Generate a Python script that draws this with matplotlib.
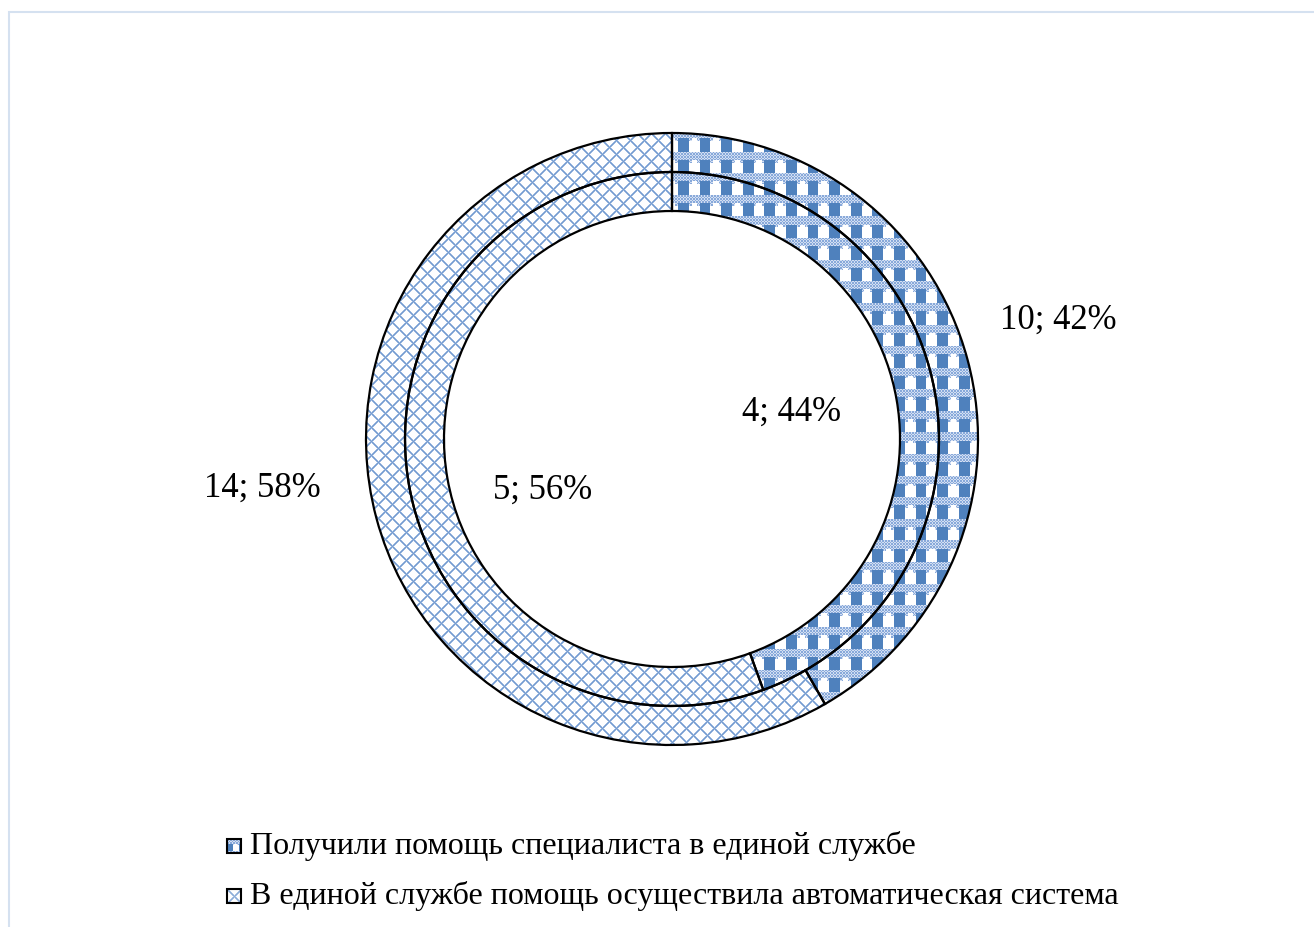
import numpy as np
import matplotlib
matplotlib.use("Agg")
import matplotlib.pyplot as plt
from matplotlib.patches import Rectangle

# Data
categories = [
    "Получили помощь специалиста в единой службе",
    "В единой службе помощь осуществила автоматическая система",
]
outer_counts = [10, 14]   # all requests
inner_counts = [4, 5]     # requests handled in the single service

W, H = 1314, 927
fig = plt.figure(figsize=(W / 100, H / 100), dpi=100)
ax = fig.add_axes([0, 0, 1, 1])

FONT = ["Liberation Serif", "DejaVu Serif"]
DARK = np.array(matplotlib.colors.to_rgb("#4F81BD"))
MID = np.array(matplotlib.colors.to_rgb("#88A9DA"))
LIGHT = np.array(matplotlib.colors.to_rgb("#D3DFF2"))


# ---- fill textures -------------------------------------------------------
def plaid(h, w, scale=2.7, x0=0.0, y0=0.0):
    """Blue plaid: dotted horizontal bands and alternating dark/white blocks."""
    yy, xx = np.mgrid[0:h, 0:w].astype(float)
    tile = np.array([
        [2, 2, 2, 2, 2, 2, 2, 2],
        [2, 2, 2, 2, 2, 2, 2, 2],
        [2, 2, 2, 2, 2, 2, 2, 2],
        [1, 1, 1, 1, 2, 0, 0, 2],
        [1, 1, 1, 1, 0, 0, 0, 0],
        [1, 1, 1, 1, 0, 0, 0, 0],
        [1, 1, 1, 1, 0, 0, 0, 0],
        [1, 1, 1, 1, 0, 0, 0, 0],
    ])
    ti = tile[np.floor((yy - y0) / scale).astype(int) % 8,
              np.floor((xx - x0) / scale).astype(int) % 8]
    dots = ((np.floor(xx / 1.5) + np.floor(yy / 1.5)) % 2) == 0
    img = np.ones((h, w, 3))
    img[ti == 1] = DARK
    img[(ti == 2) & dots] = MID
    img[(ti == 2) & ~dots] = LIGHT
    return img


def lattice(h, w, period=14.0, x0=0.0, y0=0.0, strength=0.85):
    """Light blue diagonal cross-hatch."""
    yy, xx = np.mgrid[0:h, 0:w].astype(float)
    xx -= x0
    yy -= y0
    d1 = np.mod(xx + yy, period)
    d2 = np.mod(xx - yy, period)
    dist = np.minimum(np.minimum(d1, period - d1),
                      np.minimum(d2, period - d2)) / np.sqrt(2)
    m = np.clip(1.4 - dist, 0, 1) * strength
    c = np.array(matplotlib.colors.to_rgb("#5B8AC9"))
    return np.ones((h, w, 3)) * (1 - m[..., None]) + c * m[..., None]


textures = [plaid(H, W, x0=8), lattice(H, W)]


def fill(patch, tex, extent=(0, W, 0, H)):
    im = ax.imshow(tex, extent=extent, origin="upper",
                   interpolation="nearest", zorder=0)
    im.set_clip_path(patch)


# ---- rings ---------------------------------------------------------------
cx, cy = 672, H - 439
R_out, ring_w = 306, 39
wp = dict(width=ring_w, facecolor="none", edgecolor="black", linewidth=1.6)

outer_wedges, _ = ax.pie(outer_counts, radius=R_out, center=(cx, cy),
                         startangle=90, counterclock=False, wedgeprops=wp)
inner_wedges, _ = ax.pie(inner_counts, radius=R_out - ring_w, center=(cx, cy),
                         startangle=90, counterclock=False, wedgeprops=wp)
for w in outer_wedges + inner_wedges:
    w.set_zorder(2)
for i, w in enumerate(outer_wedges):
    fill(w, textures[i])
for i, w in enumerate(inner_wedges):
    fill(w, textures[i])

ax.set_xlim(0, W)
ax.set_ylim(0, H)
ax.set_aspect("auto")
ax.axis("off")


# ---- value labels ----------------------------------------------------------
def lab(vals, i):
    return f"{vals[i]}; {round(100 * vals[i] / sum(vals))}%"


label_pos_outer = [(1058, 320), (262, 488)]
label_pos_inner = [(792, 412), (543, 490)]
for i, (x, y) in enumerate(label_pos_outer):
    ax.text(x, H - y, lab(outer_counts, i), fontsize=25, family=FONT,
            ha="center", va="center")
for i, (x, y) in enumerate(label_pos_inner):
    ax.text(x, H - y, lab(inner_counts, i), fontsize=25, family=FONT,
            ha="center", va="center")

# ---- legend ----------------------------------------------------------------
leg_rows = [846, 896]
sw = 14
swatches = [plaid(sw, sw, scale=1.4), lattice(sw, sw, period=sw, strength=0.7)]
for i, yrow in enumerate(leg_rows):
    x0, y0 = 227, H - yrow - sw / 2
    box = Rectangle((x0, y0), sw, sw, facecolor="none",
                    edgecolor="black", linewidth=1.5, zorder=3)
    ax.add_patch(box)
    fill(box, swatches[i], extent=(x0, x0 + sw, y0, y0 + sw))
    ax.text(250, H - yrow, categories[i], fontsize=23, family=FONT,
            ha="left", va="center")

# chart area border
ax.add_patch(Rectangle((9, -20), W + 20, H - 12 + 20, facecolor="none",
                       edgecolor="#D5E1F0", linewidth=1.5, zorder=1))

fig.savefig("out.png", dpi=100)
